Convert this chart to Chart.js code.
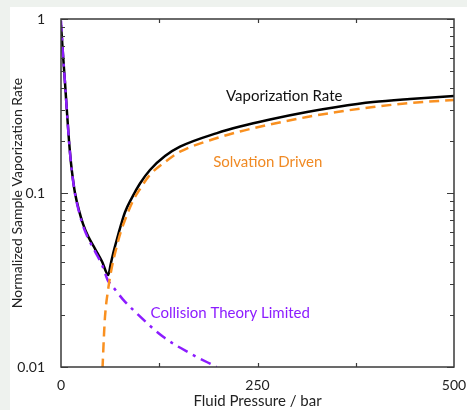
<!DOCTYPE html>
<html>
<head>
<meta charset="utf-8">
<script src="https://cdn.jsdelivr.net/npm/chart.js@4"></script>
<style>
  body { margin: 0; background: #ffffff; }
  canvas { display: block; }
</style>
</head>
<body>
<canvas id="mycanvas" width="467" height="410"></canvas>
<script>
// pressure (bar) / normalized rate
var pRate = [0, 2.5, 5.1, 7.6, 10.2, 12.7, 15.3, 17.8, 22.9, 28, 34.4, 43.3, 52.2, 60.2, 63, 66.2, 70.9, 76.3, 81.4, 90, 100.5, 113.2, 132.3, 151.4, 198.5, 227.7, 265.9, 313, 351, 397, 444, 500];
var vRate = [0.924, 0.629, 0.429, 0.292, 0.199, 0.149, 0.119, 0.1, 0.0795, 0.0665, 0.0565, 0.0478, 0.0404, 0.0338, 0.0386, 0.0446, 0.0537, 0.0655, 0.0775, 0.0935, 0.1134, 0.1356, 0.163, 0.1845, 0.221, 0.241, 0.2645, 0.292, 0.312, 0.333, 0.347, 0.361];

var pSolv = [52.8, 54.7, 56, 60.2, 65, 70.8, 76, 81.4, 92, 100.5, 113, 132.3, 151.4, 198.5, 227.7, 265.9, 313, 351, 397, 444, 500];
var vSolv = [0.0098, 0.0153, 0.0195, 0.0284, 0.038, 0.049, 0.0597, 0.07, 0.091, 0.1054, 0.127, 0.1507, 0.1727, 0.207, 0.2256, 0.2475, 0.2734, 0.292, 0.312, 0.329, 0.3423];

var pColl = [0, 2.5, 5.1, 7.6, 10.2, 12.7, 15.3, 17.8, 22.9, 28, 34.4, 43.3, 52.2, 60.2, 62.3, 79, 96, 130, 164, 198];
var vColl = [0.98, 0.629, 0.429, 0.292, 0.199, 0.148, 0.118, 0.099, 0.078, 0.0648, 0.055, 0.0462, 0.0386, 0.031, 0.0303, 0.0244, 0.0204, 0.0149, 0.012, 0.01];

var xTicks = [0, 250, 500];
var yTicks = [0.01, 0.1, 1];

function pts(xs, ys) {
	var out = [];
	for (var i in xs) {
		out.push({x: xs[i], y: ys[i]});
	}
	return out;
}

var FONT = 'Lato, "Open Sans", sans-serif';
var ORANGE = '#f99020';
var PURPLE = '#8c1cff';

// in-plot labels: [text, x, y, colour, align]
var notes = [
	['Vaporization Rate', 284, 0.361, '#111111', 'center'],
	['Solvation Driven', 263, 0.151, '#f08a24', 'center'],
	['Collision Theory Limited', 114, 0.0204, PURPLE, 'left']
];

var framePlugin = {
	id: 'frame',
	beforeDraw: function(chart) {
		var c = chart.ctx;
		c.save();
		c.fillStyle = '#eef2ee';
		c.fillRect(0, 0, chart.width, chart.height);
		c.fillStyle = '#ffffff';
		c.fillRect(10, 7, chart.width - 10, chart.height - 7);
		c.restore();
	},
	afterDraw: function(chart) {
		var c = chart.ctx;
		var a = chart.chartArea;
		var xs = chart.scales.x;
		var ys = chart.scales.y;
		c.save();
		c.strokeStyle = '#3a3a3a';
		c.lineWidth = 1.5;
		c.strokeRect(a.left, a.top, a.right - a.left, a.bottom - a.top);

		c.lineWidth = 1.2;
		c.beginPath();
		for (var d = 0.01; d < 1.5; d *= 10) {
			for (var m = 1; m < 10; m++) {
				var v = d * m;
				if (v > 1.0001) break;
				var py = Math.round(ys.getPixelForValue(v)) + 0.5;
				var len = (m === 1) ? 7 : 4;
				c.moveTo(a.left, py); c.lineTo(a.left + len, py);
				c.moveTo(a.right, py); c.lineTo(a.right - len, py);
			}
		}
		[125, 250, 375].forEach(function(t) {
			var px = Math.round(xs.getPixelForValue(t)) + 0.5;
			c.moveTo(px, a.bottom); c.lineTo(px, a.bottom - 4);
			c.moveTo(px, a.top); c.lineTo(px, a.top + 4);
		});
		c.stroke();

		c.font = '15px ' + FONT;
		c.textBaseline = 'middle';
		notes.forEach(function(n) {
			c.fillStyle = n[3];
			c.textAlign = n[4];
			c.fillText(n[0], xs.getPixelForValue(n[1]), ys.getPixelForValue(n[2]));
		});
		c.restore();
	}
};

var chartdata = {
	datasets: [
		{
			label: 'Solvation Driven',
			data: pts(pSolv, vSolv),
			borderColor: ORANGE,
			borderWidth: 2.5,
			borderDash: [10, 6],
			pointRadius: 0,
			fill: false,
			cubicInterpolationMode: 'monotone'
		}, {
			label: 'Collision Theory Limited',
			data: pts(pColl, vColl),
			borderColor: PURPLE,
			borderWidth: 2.5,
			borderDash: [11, 6, 3, 6],
			pointRadius: 0,
			fill: false,
			cubicInterpolationMode: 'monotone'
		}, {
			label: 'Vaporization Rate',
			data: pts(pRate, vRate),
			borderColor: '#000000',
			borderWidth: 2.5,
			pointRadius: 0,
			fill: false,
			cubicInterpolationMode: 'monotone'
		}
	]
};

var ctx = document.getElementById('mycanvas');

var lineGraph = new Chart(ctx, {
	type: 'line',
	data: chartdata,
	options: {
		responsive: false,
		animation: false,
		events: [],
		layout: { padding: { left: 9, top: 19, right: 13, bottom: 0 } },
		plugins: { legend: { display: false }, tooltip: { enabled: false } },
		scales: {
			x: {
				type: 'linear',
				min: 0,
				max: 500,
				grid: { display: false },
				border: { display: false },
				afterBuildTicks: function(s) { s.ticks = xTicks.map(function(v) { return {value: v}; }); },
				afterFit: function(s) { s.height = 43; s.paddingLeft = 0; s.paddingRight = 0; },
				ticks: { color: '#222222', font: { family: FONT, size: 14 }, padding: 2, maxRotation: 0 },
				title: { display: true, text: 'Fluid Pressure / bar', color: '#222222', font: { family: FONT, size: 15 }, padding: 0 }
			},
			y: {
				type: 'logarithmic',
				min: 0.01,
				max: 1,
				grid: { display: false },
				border: { display: false },
				afterBuildTicks: function(s) { s.ticks = yTicks.map(function(v) { return {value: v}; }); },
				afterFit: function(s) { s.width = 52; s.paddingTop = 0; s.paddingBottom = 0; },
				ticks: {
					color: '#222222',
					font: { family: FONT, size: 14 },
					padding: 8,
					callback: function(v) { return String(v); }
				},
				title: { display: true, text: 'Normalized Sample Vaporization Rate', color: '#222222', font: { family: FONT, size: 14 }, padding: 0 }
			}
		}
	},
	plugins: [framePlugin]
});
</script>
</body>
</html>
